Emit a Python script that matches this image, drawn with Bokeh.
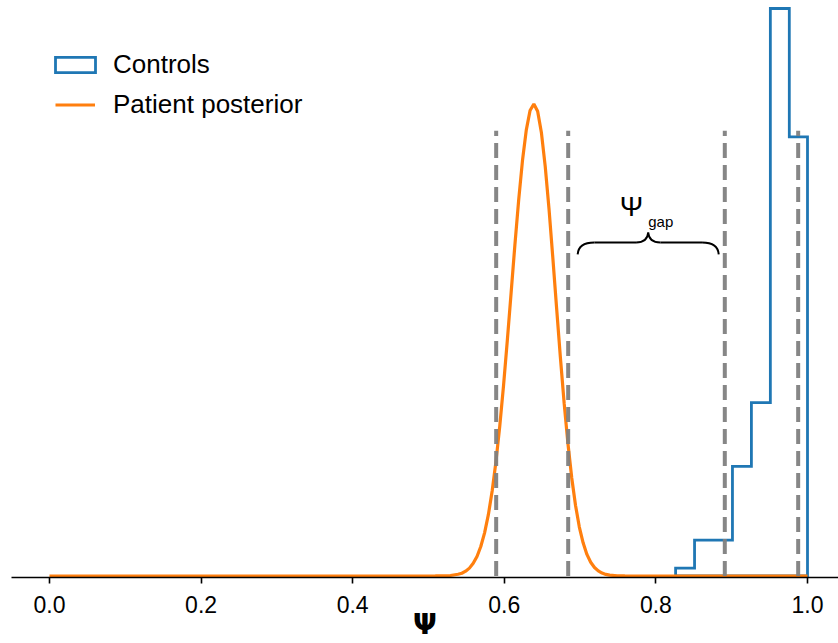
from bokeh.plotting import figure
from bokeh.models import (Range1d, FixedTicker, PrintfTickFormatter, Legend,
                          LegendItem, Label)
from bokeh.embed import file_html
from bokeh.resources import INLINE

# ---------------- data ----------------
# Controls: density histogram of psi
bin_edges = [0.826, 0.851, 0.876, 0.901, 0.926, 0.951, 0.976, 1.000]
bin_density = [0.23, 1.05, 1.05, 3.20, 5.06, 16.57, 12.82]

# Patient posterior density of psi
post_x = [0.000, 0.300, 0.509, 0.519, 0.529, 0.539, 0.544, 0.549, 0.554, 0.559,
          0.564, 0.569, 0.574, 0.579, 0.584, 0.589, 0.594, 0.599, 0.604, 0.609,
          0.614, 0.619, 0.624, 0.629, 0.634, 0.639, 0.644, 0.649, 0.654, 0.659,
          0.664, 0.669, 0.674, 0.679, 0.684, 0.689, 0.694, 0.699, 0.704, 0.709,
          0.714, 0.719, 0.724, 0.729, 0.734, 0.739, 0.749, 0.759, 0.900, 1.000]
post_y = [0.0, 0.0, 0.001, 0.004, 0.014, 0.05, 0.08, 0.14, 0.23, 0.37,
          0.57, 0.86, 1.26, 1.79, 2.48, 3.34, 4.37, 5.56, 6.88, 8.27,
          9.67, 10.98, 12.13, 13.02, 13.59, 13.78, 13.57, 12.94, 11.96, 10.72,
          9.30, 7.83, 6.38, 5.04, 3.86, 2.86, 2.06, 1.43, 0.97, 0.63,
          0.40, 0.25, 0.15, 0.085, 0.047, 0.026, 0.007, 0.0016, 0.0, 0.0]

# interval bounds: patient (lo, hi), controls (lo, hi)
interval_x = [0.5893, 0.6843, 0.8909, 0.9877]
interval_top = 13.0

x_ticks = [0.0, 0.2, 0.4, 0.6, 0.8, 1.0]

BLUE = "#1f77b4"
ORANGE = "#ff7f0e"
FONT = "Liberation Sans"

# ---------------- figure ----------------
p = figure(width=838, height=643, output_backend="svg", toolbar_location=None,
           x_range=Range1d(-0.0501, 1.0409), y_range=Range1d(-0.0437, 16.628),
           y_axis_location=None, min_border_left=11, min_border_right=0,
           min_border_top=6, min_border_bottom=65)
p.grid.visible = False
p.outline_line_color = None
p.background_fill_color = "white"

ax = p.xaxis[0]
ax.ticker = FixedTicker(ticks=x_ticks)
ax.formatter = PrintfTickFormatter(format="%.1f")
ax.axis_line_color = "black"
ax.axis_line_width = 1.6
ax.major_tick_line_color = "black"
ax.major_tick_line_width = 1.6
ax.major_tick_out = 6
ax.major_tick_in = 0
ax.minor_tick_out = 0
ax.minor_tick_in = 0
ax.major_label_text_font = FONT
ax.major_label_text_font_size = "23px"
ax.major_label_text_color = "black"
ax.major_label_standoff = 12
ax.axis_label = "Ψ"
ax.axis_label_text_font = "DejaVu Sans"
ax.axis_label_text_font_style = "bold"
ax.axis_label_text_font_size = "28px"
ax.axis_label_text_color = "black"
ax.axis_label_standoff = -8

# histogram outline (step)
hx = [bin_edges[0]]
hy = [0.0]
for i, h in enumerate(bin_density):
    hx += [bin_edges[i], bin_edges[i + 1]]
    hy += [h, h]
hx.append(bin_edges[-1])
hy.append(0.0)
hist_r = p.patch(hx, hy, fill_color=None, line_color=BLUE, line_width=2.8,
                 line_join="miter")

# posterior
post_r = p.line(post_x, post_y, line_color=ORANGE, line_width=3.2)

# dashed interval lines
p.segment(x0=interval_x, y0=[0] * len(interval_x), x1=interval_x,
          y1=[interval_top] * len(interval_x), line_color="#808080",
          line_width=4, line_dash="15 7", line_alpha=0.95)

# brace between patient upper bound and controls lower bound
bx0 = interval_x[1] + 0.0125
bx1 = interval_x[2] - 0.008
bm = (bx0 + bx1) / 2
y_end, y_arm, y_tip = 9.39, 9.74, 10.03
arm = 0.022
tipw = 0.016
p.quadratic(x0=[bx0, bm - tipw, bm, bx1 - arm],
            y0=[y_end, y_arm, y_tip, y_arm],
            x1=[bx0 + arm, bm, bm + tipw, bx1],
            y1=[y_arm, y_tip, y_arm, y_end],
            cx=[bx0 + 0.001, bm - 0.001, bm + 0.001, bx1 - 0.001],
            cy=[y_arm, y_arm, y_arm, y_arm],
            line_color="black", line_width=2)
p.segment(x0=[bx0 + arm, bm + tipw], y0=[y_arm, y_arm],
          x1=[bm - tipw, bx1 - arm], y1=[y_arm, y_arm],
          line_color="black", line_width=2)

p.add_layout(Label(x=bm, y=y_tip, x_offset=-5, y_offset=26, text="Ψ",
                   text_align="right", text_baseline="alphabetic",
                   text_font=FONT, text_font_size="28px", text_color="black"))
p.add_layout(Label(x=bm, y=y_tip, x_offset=0, y_offset=11, text="gap",
                   text_align="left", text_baseline="alphabetic",
                   text_font=FONT, text_font_size="15px", text_color="black"))

# legends
leg1 = Legend(items=[LegendItem(label="Controls", renderers=[hist_r])],
              location=(39, 497), glyph_width=50, glyph_height=19,
              label_standoff=13, padding=0, margin=0, spacing=0,
              border_line_color=None, background_fill_alpha=0,
              label_text_font=FONT, label_text_font_size="26px",
              label_text_color="black")
leg2 = Legend(items=[LegendItem(label="Patient posterior", renderers=[post_r])],
              location=(44, 457), glyph_width=40, glyph_height=19,
              label_standoff=18, padding=0, margin=0, spacing=0,
              border_line_color=None, background_fill_alpha=0,
              label_text_font=FONT, label_text_font_size="26px",
              label_text_color="black")
p.add_layout(leg1, "center")
p.add_layout(leg2, "center")

open("out.html", "w").write(file_html(p, INLINE))
